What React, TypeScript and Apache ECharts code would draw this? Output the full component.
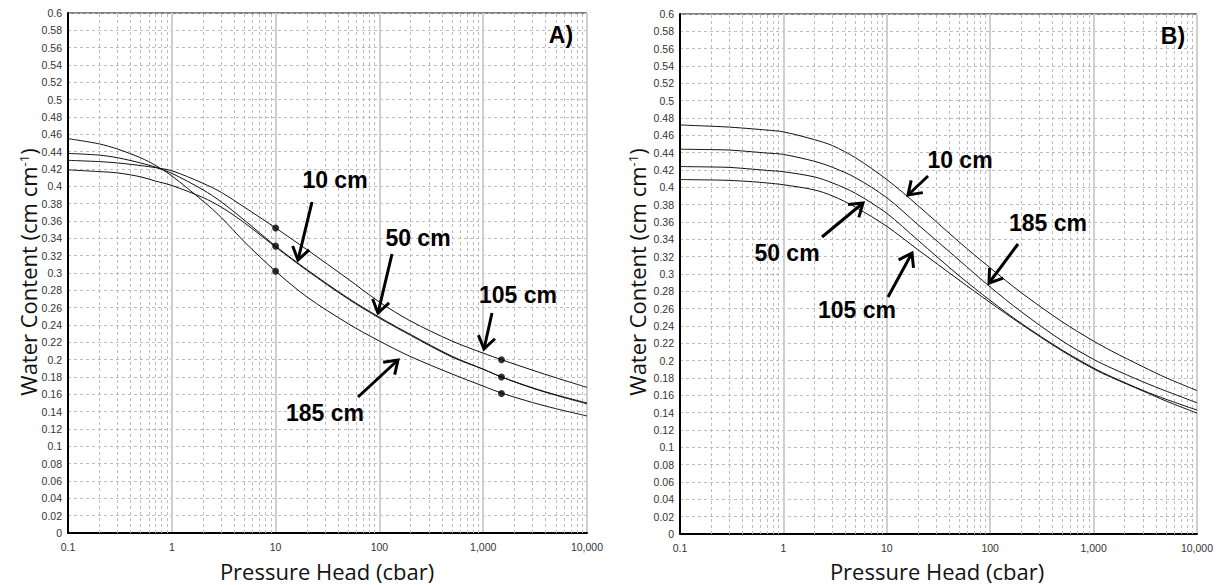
import React, { useEffect, useRef } from "react";
import * as echarts from "echarts";

// Pressure head (cbar) sample points shared by every curve
const pressure = [0.1, 0.2, 0.3, 0.5, 0.7, 1, 2, 3, 5, 10, 20, 50, 100, 200, 500, 1000, 1500, 3000, 5000, 10000];

// Panel A) water content (cm cm-1)
const a10cm = [0.438, 0.436, 0.433, 0.427, 0.422, 0.415, 0.396, 0.382, 0.361, 0.331, 0.304, 0.271, 0.249, 0.229, 0.204, 0.189, 0.180, 0.1675, 0.1595, 0.150];
const a50cm = [0.419, 0.417, 0.4155, 0.411, 0.406, 0.401, 0.387, 0.376, 0.358, 0.330, 0.303, 0.270, 0.248, 0.228, 0.203, 0.189, 0.180, 0.167, 0.159, 0.149];
const a105cm = [0.430, 0.4285, 0.427, 0.424, 0.4215, 0.418, 0.4035, 0.393, 0.376, 0.352, 0.327, 0.293, 0.2665, 0.2445, 0.2215, 0.2075, 0.200, 0.1878, 0.1792, 0.168];
const a185cm = [0.455, 0.449, 0.443, 0.433, 0.424, 0.412, 0.383, 0.364, 0.336, 0.302, 0.2725, 0.2415, 0.2215, 0.2035, 0.1835, 0.1695, 0.1615, 0.1505, 0.1435, 0.135];

// Panel A) measured points
const dotPressure = [10, 1500];
const aDots105 = [0.352, 0.200];
const aDots10 = [0.331, 0.180];
const aDots185 = [0.302, 0.161];

// Panel B) water content (cm cm-1)
const b10cm = [0.472, 0.4705, 0.4695, 0.4675, 0.466, 0.464, 0.455, 0.448, 0.434, 0.409, 0.379, 0.337, 0.307, 0.2784, 0.2446, 0.2226, 0.211, 0.193, 0.1804, 0.1655];
const b185cm = [0.444, 0.4435, 0.443, 0.441, 0.4395, 0.438, 0.430, 0.423, 0.411, 0.388, 0.357, 0.316, 0.285, 0.2564, 0.2226, 0.2015, 0.1913, 0.1756, 0.165, 0.1514];
const b50cm = [0.424, 0.4235, 0.423, 0.421, 0.4195, 0.418, 0.412, 0.405, 0.393, 0.370, 0.339, 0.298, 0.2695, 0.243, 0.212, 0.1915, 0.1813, 0.1657, 0.1555, 0.143];
const b105cm = [0.409, 0.4085, 0.408, 0.4065, 0.405, 0.403, 0.397, 0.390, 0.377, 0.355, 0.328, 0.293, 0.267, 0.242, 0.211, 0.1905, 0.1805, 0.165, 0.1535, 0.1395];

// Minor (2..9 per decade) grid positions
const decades = [0.1, 1, 10, 100, 1000];
const minorMultipliers = [2, 3, 4, 5, 6, 7, 8, 9];

const pair = (ys: number[]) => pressure.map((p, i) => [p, ys[i]]);
const dotPair = (ys: number[]) => dotPressure.map((p, i) => [p, ys[i]]);

const fmtX = (v: number) => {
  if (v < 1) return String(+v.toFixed(2));
  return String(Math.round(v)).replace(/\B(?=(\d{3})+(?!\d))/g, ",");
};
const fmtY = (v: number) => String(Math.round(v * 100) / 100);

function arrow(x1: number, y1: number, x2: number, y2: number) {
  const ang = Math.atan2(y2 - y1, x2 - x1);
  const L = 15;
  const spread = 0.6;
  const b1 = [x2 - L * Math.cos(ang - spread), y2 - L * Math.sin(ang - spread)];
  const b2 = [x2 - L * Math.cos(ang + spread), y2 - L * Math.sin(ang + spread)];
  return [
    { type: "line", shape: { x1, y1, x2, y2 }, style: { stroke: "#000", lineWidth: 3 }, z: 50 },
    { type: "polyline", shape: { points: [b1, [x2, y2], b2] }, style: { stroke: "#000", lineWidth: 3, fill: null }, z: 50 },
  ];
}

function label(text: string, x: number, y: number) {
  return {
    type: "text",
    x,
    y,
    z: 50,
    style: {
      text,
      fontSize: 23,
      fontWeight: "bold",
      fontFamily: "Liberation Sans, Arial, sans-serif",
      fill: "#000",
      align: "center",
      verticalAlign: "middle",
    },
  };
}

function yTitle(x: number, y: number) {
  return {
    type: "text",
    x,
    y,
    rotation: Math.PI / 2,
    z: 50,
    style: {
      text: "{a|Water Content (cm cm}{s|-1}{a|)}",
      align: "center",
      verticalAlign: "middle",
      rich: {
        a: { fontSize: 22, fontFamily: "Open Sans, sans-serif", fill: "#111" },
        s: { fontSize: 13, fontFamily: "Open Sans, sans-serif", fill: "#111", verticalAlign: "top" },
      },
    },
  };
}

function xTitle(x: number, y: number) {
  return {
    type: "text",
    x,
    y,
    z: 50,
    style: {
      text: "Pressure Head (cbar)",
      fontSize: 22,
      fontFamily: "Open Sans, sans-serif",
      fill: "#111",
      align: "center",
      verticalAlign: "middle",
    },
  };
}

export default function App() {
  const ref = useRef<HTMLDivElement>(null);

  useEffect(() => {
    if (!ref.current) return;
    const chart = echarts.init(ref.current, undefined, { renderer: "svg" });

    const minorGrid: number[] = [];
    decades.forEach((d) => minorMultipliers.forEach((m) => minorGrid.push(+(d * m).toPrecision(3))));

    const xAxisBase = (gridIndex: number) => ({
      type: "log",
      logBase: 10,
      gridIndex,
      min: 0.1,
      max: 10000,
      axisLine: { show: true, onZero: false, lineStyle: { color: "#000", width: 2 } },
      axisTick: { show: false },
      axisLabel: { color: "#333", fontSize: 10.5, margin: 8, formatter: fmtX, fontFamily: "Liberation Sans, Arial, sans-serif" },
      splitLine: { show: true, lineStyle: { color: "#cfcfcf", width: 2 } },
    });
    const yAxisBase = (gridIndex: number) => ({
      type: "value",
      gridIndex,
      min: 0,
      max: 0.6,
      interval: 0.02,
      axisLine: { show: true, onZero: false, lineStyle: { color: "#000", width: 2 } },
      axisTick: { show: false },
      axisLabel: { color: "#333", fontSize: 10.5, margin: 6, formatter: fmtY, fontFamily: "Liberation Sans, Arial, sans-serif" },
      splitLine: { show: true, lineStyle: { color: "#bdbdbd", width: 1, type: [3, 3] } },
    });

    const minorSeries = (idx: number) => ({
      type: "line",
      xAxisIndex: idx,
      yAxisIndex: idx,
      data: [],
      silent: true,
      z: 1,
      markLine: {
        silent: true,
        symbol: "none",
        label: { show: false },
        animation: false,
        lineStyle: { color: "#bdbdbd", width: 1, type: [3, 3] },
        data: minorGrid.map((v) => ({ xAxis: v })),
      },
    });

    const curve = (name: string, idx: number, ys: number[]) => ({
      name,
      type: "line",
      xAxisIndex: idx,
      yAxisIndex: idx,
      data: pair(ys),
      smooth: 0.3,
      showSymbol: false,
      symbol: "none",
      z: 5,
      lineStyle: { color: "#111", width: 1 },
    });

    const dots = (name: string, ys: number[]) => ({
      name,
      type: "scatter",
      xAxisIndex: 0,
      yAxisIndex: 0,
      data: dotPair(ys),
      symbol: "circle",
      symbolSize: 7,
      z: 6,
      itemStyle: { color: "#000" },
    });

    const graphics: any[] = [
      label("A)", 561, 35),
      label("B)", 1173, 36),
      label("10 cm", 335, 180),
      ...arrow(312, 202, 298, 260),
      label("50 cm", 418, 238),
      ...arrow(392, 254, 378, 313),
      label("105 cm", 518, 295),
      ...arrow(492, 313, 484, 349),
      label("185 cm", 325, 413),
      ...arrow(358, 397, 398, 360),
      label("10 cm", 960, 160),
      ...arrow(928, 176, 908, 195),
      label("185 cm", 1048, 223),
      ...arrow(1018, 244, 989, 283),
      label("50 cm", 787, 253),
      ...arrow(822, 237, 863, 203),
      label("105 cm", 857, 310),
      ...arrow(888, 297, 912, 253),
      yTitle(28, 272),
      yTitle(637, 272),
      xTitle(327, 571),
      xTitle(937, 571),
    ];

    chart.setOption({
      animation: false,
      backgroundColor: "#fff",
      textStyle: { fontFamily: "Liberation Sans, Arial, sans-serif" },
      grid: [
        { left: 68, top: 13, width: 519, height: 520, show: true, borderColor: "#000", borderWidth: 1, backgroundColor: "transparent" },
        { left: 680, top: 14, width: 517, height: 520, show: true, borderColor: "#000", borderWidth: 1, backgroundColor: "transparent" },
      ],
      xAxis: [xAxisBase(0), xAxisBase(1)],
      yAxis: [yAxisBase(0), yAxisBase(1)],
      series: [
        minorSeries(0),
        minorSeries(1),
        curve("A 10 cm", 0, a10cm),
        curve("A 50 cm", 0, a50cm),
        curve("A 105 cm", 0, a105cm),
        curve("A 185 cm", 0, a185cm),
        dots("A 105 cm measured", aDots105),
        dots("A 10 cm measured", aDots10),
        dots("A 185 cm measured", aDots185),
        curve("B 10 cm", 1, b10cm),
        curve("B 185 cm", 1, b185cm),
        curve("B 50 cm", 1, b50cm),
        curve("B 105 cm", 1, b105cm),
      ],
      graphic: graphics,
    });

    return () => chart.dispose();
  }, []);

  return (
    <div
      ref={ref}
      style={{ position: "fixed", left: 0, top: 0, width: 1220, height: 585, background: "#fff" }}
    />
  );
}
